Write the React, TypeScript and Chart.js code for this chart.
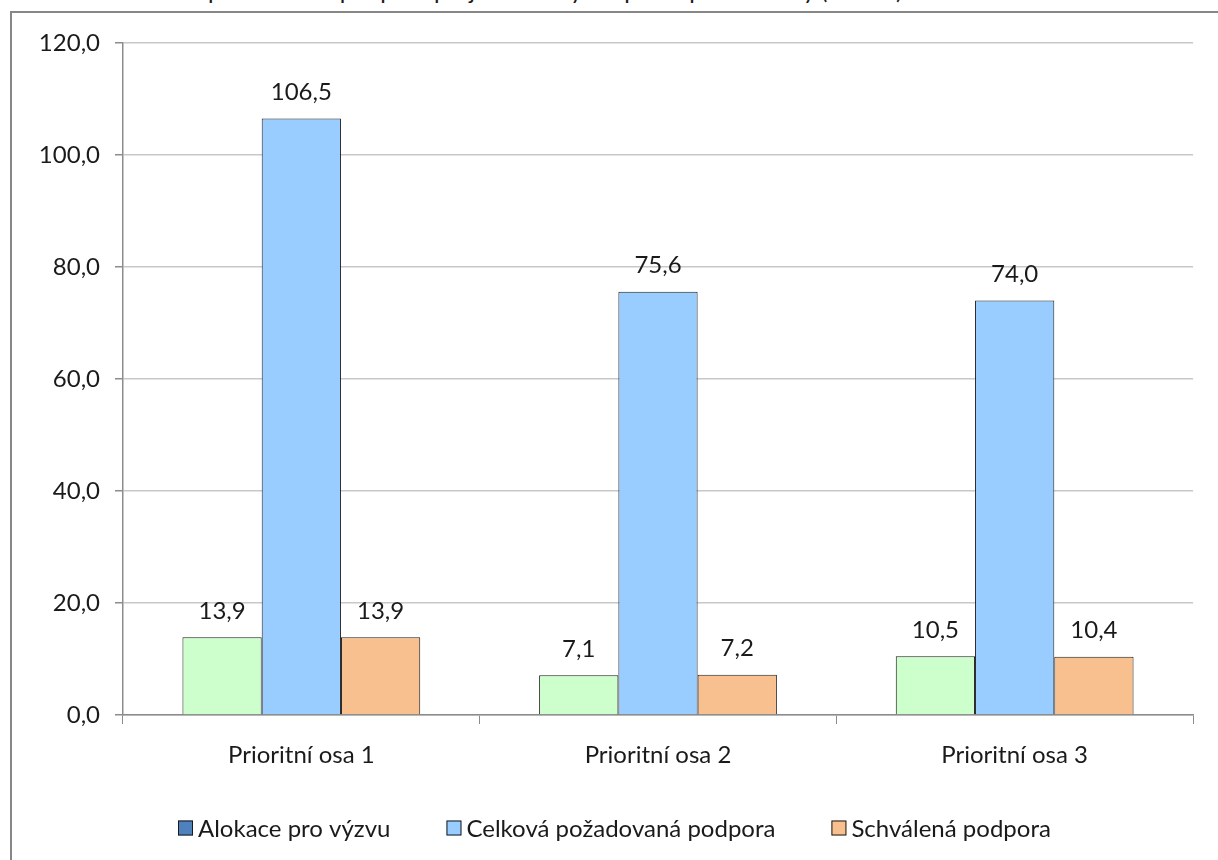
import React, { useEffect, useRef } from "react";
import { Chart, registerables } from "chart.js";

Chart.register(...registerables);

const categories = ["Prioritní osa 1", "Prioritní osa 2", "Prioritní osa 3"];
const seriesNames = ["Alokace pro výzvu", "Celková požadovaná podpora", "Schválená podpora"];
const alokace = [13.9, 7.1, 10.5];
const pozadovana = [106.5, 75.6, 74.0];
const schvalena = [13.9, 7.2, 10.4];
const yTicks = [0, 20, 40, 60, 80, 100, 120];

const barColors = ["#CCFFCC", "#99CCFF", "#F9C08F"];
const legendColors = ["#4F81BD", "#99CCFF", "#F9C08F"];
const FONT = "Lato, 'Open Sans', sans-serif";
const FS = 24;

const fmt = (v: number) => v.toFixed(1).replace(".", ",");

export default function App() {
  const ref = useRef<HTMLCanvasElement | null>(null);

  useEffect(() => {
    if (!ref.current) return;
    const valueLabels = {
      id: "valueLabels",
      afterDatasetsDraw(chart: any) {
        const ctx = chart.ctx;
        ctx.save();
        ctx.font = `${FS}px ${FONT}`;
        ctx.fillStyle = "#1a1a1a";
        ctx.textAlign = "center";
        ctx.textBaseline = "middle";
        chart.data.datasets.forEach((ds: any, i: number) => {
          const meta = chart.getDatasetMeta(i);
          meta.data.forEach((bar: any, j: number) => {
            ctx.fillText(fmt(ds.data[j]), bar.x, bar.y - 26);
          });
        });
        ctx.restore();
      },
    };
    const customLegend = {
      id: "customLegend",
      afterDraw(chart: any) {
        const ctx = chart.ctx;
        ctx.save();
        ctx.font = `${FS}px ${FONT}`;
        ctx.textBaseline = "middle";
        ctx.textAlign = "left";
        const box = 15;
        const gapBoxText = 5;
        const gapItems = 56;
        const widths = seriesNames.map((n) => box + gapBoxText + ctx.measureText(n).width);
        let x = 178;
        const y = 828;
        seriesNames.forEach((n, i) => {
          ctx.fillStyle = legendColors[i];
          ctx.fillRect(x, y - box / 2, box, box);
          ctx.strokeStyle = "#1a1a1a";
          ctx.lineWidth = 1;
          ctx.strokeRect(x + 0.5, y - box / 2 + 0.5, box - 1, box - 1);
          ctx.fillStyle = "#1a1a1a";
          ctx.fillText(n, x + box + gapBoxText, y + 1);
          x += widths[i] + gapItems;
        });
        ctx.restore();
      },
    };

    const chart = new Chart(ref.current, {
      type: "bar",
      data: {
        labels: categories,
        datasets: [alokace, pozadovana, schvalena].map((d, i) => ({
          label: seriesNames[i],
          data: d,
          backgroundColor: barColors[i],
          borderColor: "#1f1f1f",
          borderWidth: 1,
          categoryPercentage: 3 / 4.5,
          barPercentage: 1,
        })),
      },
      options: {
        animation: false,
        responsive: false,
        maintainAspectRatio: false,
        devicePixelRatio: 1,
        layout: { padding: { left: 0, top: 43, right: 25, bottom: 0 } },
        plugins: {
          legend: { display: false },
          tooltip: { enabled: false },
          title: { display: false },
        },
        scales: {
          x: {
            grid: {
              display: true,
              drawOnChartArea: false,
              drawTicks: true,
              tickLength: 9,
              color: "#8c8c8c",
              offset: true,
            },
            border: { display: true, color: "#8c8c8c", width: 1.5 },
            ticks: {
              font: { family: FONT, size: FS },
              color: "#1a1a1a",
              padding: 17,
            },
            afterFit: (s: any) => {
              s.height = 145;
            },
          },
          y: {
            min: 0,
            max: 120,
            afterBuildTicks: (s: any) => {
              s.ticks = yTicks.map((v) => ({ value: v }));
            },
            grid: {
              color: "#c8c8c8",
              lineWidth: 1.5,
              tickLength: 8,
              tickColor: "#8c8c8c",
              drawTicks: true,
            },
            border: { display: true, color: "#8c8c8c", width: 1.5 },
            ticks: {
              font: { family: FONT, size: FS },
              color: "#1a1a1a",
              padding: 15,
              callback: (v: any) => fmt(Number(v)),
            },
            afterFit: (s: any) => {
              s.width = 123;
            },
          },
        },
      },
      plugins: [valueLabels, customLegend],
    });
    return () => chart.destroy();
  }, []);

  return (
    <div style={{ position: "fixed", left: 0, top: 0, width: 1218, height: 860, overflow: "hidden", background: "#fff" }}>
      <div
        style={{
          position: "absolute",
          left: 0,
          top: -22,
          width: 1218,
          whiteSpace: "nowrap",
          fontFamily: FONT,
          fontSize: FS,
          lineHeight: `${FS}px`,
          color: "#1a1a1a",
        }}
      >
        Graf č. 3: Alokace a požadovaná podpora projektů ve výzvě podle prioritní osy (mil. Kč)
      </div>
      <div
        style={{
          position: "absolute",
          left: 10,
          top: 11,
          width: 1240,
          height: 900,
          borderLeft: "2px solid #878787",
          borderTop: "2px solid #878787",
          boxSizing: "border-box",
        }}
      />
      <canvas ref={ref} width={1218} height={860} style={{ position: "absolute", left: 0, top: 0, width: 1218, height: 860 }} />
    </div>
  );
}
